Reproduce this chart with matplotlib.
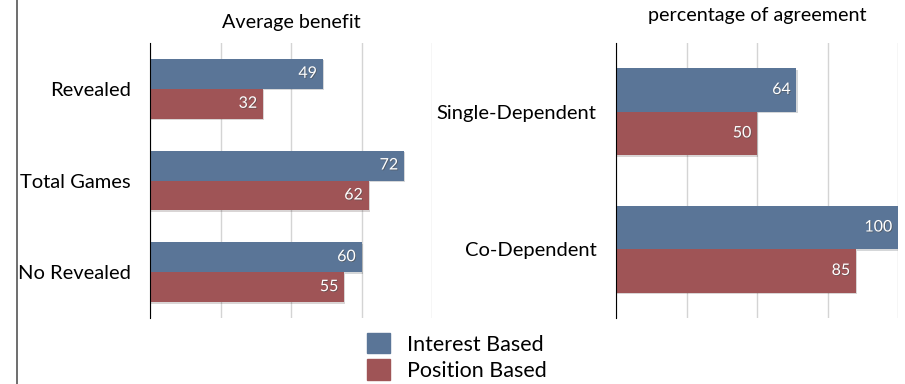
import matplotlib.pyplot as plt
import matplotlib.patheffects as pe
from matplotlib.lines import Line2D
from matplotlib.patches import Patch

# Data
benefit_cats = ["Revealed", "Total Games", "No Revealed"]
benefit_interest = [49, 72, 60]
benefit_position = [32, 62, 55]

agree_cats = ["Single-Dependent", "Co-Dependent"]
agree_interest = [64, 100]
agree_position = [50, 85]

series_names = ["Interest Based", "Position Based"]
blue = "#5a7597"
red = "#9f5456"

plt.rcParams['font.family'] = ['Lato', 'DejaVu Sans']

fig = plt.figure(figsize=(9.05, 3.84), dpi=100)

bar_shadow = [pe.SimplePatchShadow(offset=(1, -1), alpha=0.18), pe.Normal()]
txt_shadow = [pe.withSimplePatchShadow(offset=(0.6, -0.6), alpha=0.6)]


def panel(rect, cats, interest, position, xmax, step, title, bar_h, title_y):
    ax = fig.add_axes(rect)
    pos = list(range(len(cats)))
    b1 = ax.barh([p - bar_h / 2 for p in pos], interest, height=bar_h, color=blue)
    b2 = ax.barh([p + bar_h / 2 for p in pos], position, height=bar_h, color=red)
    for bars, vals in ((b1, interest), (b2, position)):
        for bar, v in zip(bars, vals):
            bar.set_path_effects(bar_shadow)
            ax.annotate(str(v), (v, bar.get_y() + bar.get_height() / 2),
                        xytext=(-4, 0), textcoords='offset points',
                        ha='right', va='center', color='white', fontsize=11.5,
                        path_effects=txt_shadow)
    ax.set_xlim(0, xmax)
    ax.set_ylim(len(cats) - 0.5, -0.5)
    ax.set_xticks(range(0, xmax + 1, step))
    ax.set_xticklabels([])
    ax.set_yticks(pos)
    ax.set_yticklabels(cats, fontsize=14.5)
    ax.tick_params(length=0, pad=14)
    ax.grid(axis='x', color='#d4d4d4', linewidth=1)
    ax.set_axisbelow(True)
    for s in ('top', 'right', 'bottom'):
        ax.spines[s].set_visible(False)
    ax.spines['left'].set_color('black')
    ax.set_title(title, fontsize=14.2, y=title_y)
    return ax


panel([150 / 905, 66 / 384, 282 / 905, 275 / 384], benefit_cats,
      benefit_interest, benefit_position, 80, 20, "Average benefit", 0.327, 1.025)
panel([616 / 905, 66 / 384, 282 / 905, 275 / 384], agree_cats,
      agree_interest, agree_position, 100, 25, "percentage of agreement", 0.316, 1.05)

# left border line
fig.add_artist(Line2D([17 / 905, 17 / 905], [0, 1], color='#555555', linewidth=1.2))

handles = [Patch(color=blue), Patch(color=red)]
fig.legend(handles, series_names, loc='upper left',
           bbox_to_anchor=(350 / 905, 1 - 316 / 384), frameon=False,
           fontsize=15.5, handlelength=1.07, handleheight=1.07,
           labelspacing=0.22, handletextpad=0.8, borderpad=0.3)

fig.savefig("out.png", dpi=100)
